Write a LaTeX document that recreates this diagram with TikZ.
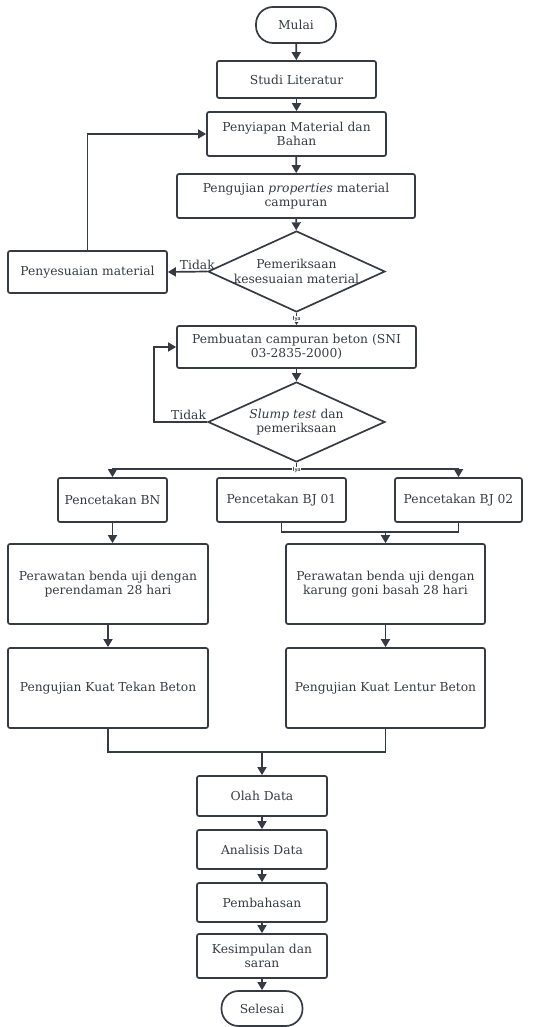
\documentclass[tikz,border=0pt]{standalone}
\usepackage{fontspec}
\setmainfont{DejaVu Serif}
\usetikzlibrary{shapes.geometric,arrows.meta}
\definecolor{ink}{HTML}{363B43}
\begin{document}
\begin{tikzpicture}[x=1pt,y=-1pt,
  box/.style={draw=ink, line width=1.7pt, rounded corners=2pt, align=center, text=ink, font=\fontsize{12.3}{14.5}\selectfont, inner sep=0pt},
  term/.style={box, rounded corners=17pt},
  dec/.style={draw=ink, line width=1.7pt, diamond, inner sep=0pt},
  arr/.style={draw=ink, line width=1.7pt, -{Triangle[length=8pt,width=9pt]}},
  wire/.style={draw=ink, line width=1.7pt},
  lab/.style={text=ink, font=\fontsize{12.3}{14.5}\selectfont, align=center, inner sep=1pt},
  iya/.style={font=\sffamily\bfseries\fontsize{6}{7}\selectfont, text=ink, fill=white, inner sep=0.5pt}
]
\useasboundingbox (0,0) rectangle (537,1027);

\node[term, minimum width=80pt, minimum height=36pt] (mulai) at (296,25) {Mulai};
\node[box, minimum width=159pt, minimum height=37pt] (studi) at (296.5,79.5) {Studi Literatur};
\node[box, minimum width=179pt, minimum height=44pt] (siap) at (296.5,134) {Penyiapan Material dan\\Bahan};
\node[box, minimum width=238pt, minimum height=44pt] (uji) at (296,196) {Pengujian \textit{properties} material\\campuran};
\node[dec, minimum width=177pt, minimum height=81pt, label={[lab]center:{Pemeriksaan\\kesesuaian material}}] (d1) at (296.5,271.5) {};
\node[box, minimum width=159pt, minimum height=42pt] (sesuai) at (87.5,272) {Penyesuaian material};
\node[box, minimum width=239pt, minimum height=42pt] (buat) at (296.5,347) {Pembuatan campuran beton (SNI\\03-2835-2000)};
\node[dec, minimum width=177pt, minimum height=80pt, label={[lab]center:{\textit{Slump test} dan\\pemeriksaan}}] (d2) at (296.5,422) {};
\node[box, minimum width=109pt, minimum height=44pt] (bn) at (112.5,500) {Pencetakan BN};
\node[box, minimum width=129pt, minimum height=44pt] (bj1) at (281.5,500) {Pencetakan BJ 01};
\node[box, minimum width=127pt, minimum height=44pt] (bj2) at (458.5,500) {Pencetakan BJ 02};
\node[box, minimum width=200pt, minimum height=80pt] (raw1) at (108,584) {Perawatan benda uji dengan\\perendaman 28 hari};
\node[box, minimum width=199pt, minimum height=80pt] (raw2) at (385.5,584) {Perawatan benda uji dengan\\karung goni basah 28 hari};
\node[box, minimum width=200pt, minimum height=80pt] (tekan) at (108,688) {Pengujian Kuat Tekan Beton};
\node[box, minimum width=199pt, minimum height=80pt] (lentur) at (385.5,688) {Pengujian Kuat Lentur Beton};
\node[box, minimum width=130pt, minimum height=40pt] (olah) at (262,796) {Olah Data};
\node[box, minimum width=130pt, minimum height=39pt] (anal) at (262,849.5) {Analisis Data};
\node[box, minimum width=130pt, minimum height=39pt] (bahas) at (262,902.5) {Pembahasan};
\node[box, minimum width=130pt, minimum height=44pt] (simpul) at (262,956) {Kesimpulan dan\\saran};
\node[term, minimum width=81pt, minimum height=35pt] (selesai) at (262,1008.5) {Selesai};

\draw[arr] (mulai) -- (studi);
\draw[arr] (studi) -- (siap);
\draw[arr] (siap) -- (uji);
\draw[arr] (uji) -- (d1);
\draw[arr] (d1) -- node[iya] {Iya} (buat);
\draw[arr] (d1.west) -- node[lab, above, pos=0.25] {Tidak} (sesuai.east);
\draw[arr] (sesuai.north) |- (siap.west);
\draw[arr] (buat) -- (d2);
\draw[arr] (d2.west) -- node[lab, above, pos=0.35] {Tidak} ++(-53,0) |- (buat.west);

\coordinate (br) at (296.5,469);
\draw[wire] (d2.south) -- (br);
\draw[arr] (br) -| (bn.north);
\draw[arr] (br) -| (bj2.north);
\node[iya] (iya2) at (296.5,470.5) {Iya};

\coordinate (j1) at (385.5,532);
\draw[wire] (bj1.south) |- (j1) -| (bj2.south);
\draw[arr] (j1) -- (raw2.north);
\draw[arr] (bn.south) -- (bn.south |- raw1.north);
\draw[arr] (raw1) -- (tekan);
\draw[arr] (raw2) -- (lentur);

\coordinate (j2) at (262,752);
\draw[wire] (tekan.south) |- (j2) -| (lentur.south);
\draw[arr] (j2) -- (olah);
\draw[arr] (olah) -- (anal);
\draw[arr] (anal) -- (bahas);
\draw[arr] (bahas) -- (simpul);
\draw[arr] (simpul) -- (selesai);
\end{tikzpicture}
\end{document}
